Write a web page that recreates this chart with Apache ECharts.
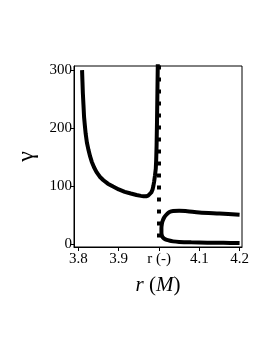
<!DOCTYPE html>
<html><head><meta charset="utf-8">
<script src="https://cdn.jsdelivr.net/npm/echarts@6/dist/echarts.min.js"></script>
<style>html,body{margin:0;padding:0;background:#fff}#c{width:273px;height:353px}</style>
</head><body><div id="c"></div>
<script>
// Left branch: gamma vs r
const leftR = [3.809, 3.810, 3.811, 3.8125, 3.814, 3.816, 3.818, 3.821, 3.825, 3.829, 3.833, 3.839, 3.845, 3.853, 3.862, 3.873, 3.886, 3.900, 3.915, 3.930, 3.944, 3.955, 3.962, 3.968, 3.973, 3.977, 3.981, 3.984, 3.986, 3.988, 3.990, 3.992, 3.993, 3.994, 3.995, 3.996, 3.997];
const leftG = [300, 280, 260, 240, 219, 204, 190, 175, 162, 151, 142, 132, 124, 116, 110, 104, 99, 94, 90, 87, 84.5, 83, 82.3, 82.3, 83.5, 85.5, 89, 94, 100, 108, 118, 130, 145, 170, 210, 260, 310];
// Right C-shaped branch
const rightR = [4.2, 4.15, 4.1, 4.07, 4.05, 4.035, 4.026, 4.019, 4.013, 4.009, 4.007, 4.006, 4.006, 4.007, 4.010, 4.016, 4.025, 4.035, 4.05, 4.08, 4.12, 4.16, 4.2];
const rightG = [50.5, 52.5, 54.5, 56.5, 57.5, 57, 55, 51, 46, 40, 34, 27, 20, 15, 11, 8, 6, 4.5, 3.5, 2.8, 2.3, 2, 1.7];
// Dotted vertical line at r(-)
const dotR = [4.0, 4.0];
const dotG = [11, 310];
// Tick labels
const xTicks = [3.8, 3.9, 4.0, 4.1, 4.2];
const xTickLabels = ['3.8', '3.9', 'r (-)', '4.1', '4.2'];
const yTicks = [0, 100, 200, 300];

const zip = (a, b) => a.map((v, i) => [v, b[i]]);
const serif = 'Liberation Serif';
const chart = echarts.init(document.getElementById('c'));
chart.setOption({
  animation: false,
  backgroundColor: '#fff',
  grid: { left: 74, top: 66, right: 31, bottom: 106, show: true, borderColor: '#000', borderWidth: 1, backgroundColor: 'transparent' },
  xAxis: {
    type: 'value', min: 3.789, max: 4.206,
    axisLine: { show: true, onZero: false, lineStyle: { color: '#000', width: 1 } },
    axisTick: { show: true, length: 4, customValues: xTicks, lineStyle: { color: '#000' } },
    axisLabel: { customValues: xTicks, color: '#000', fontFamily: serif, fontSize: 15, margin: 5,
      formatter: v => { const i = xTicks.findIndex(t => Math.abs(t - v) < 1e-6); return i >= 0 ? xTickLabels[i] : ''; } },
    splitLine: { show: false },
    name: '{i|r} ({i|M})', nameLocation: 'middle', nameGap: 28,
    nameTextStyle: { color: '#000', fontFamily: serif, fontSize: 21, rich: { i: { fontStyle: 'italic', fontFamily: serif, fontSize: 21, color: '#000' } } }
  },
  yAxis: {
    type: 'value', min: -5.2, max: 307,
    axisLine: { show: true, onZero: false, lineStyle: { color: '#000', width: 1 } },
    axisTick: { show: true, length: 4, customValues: yTicks, lineStyle: { color: '#000' } },
    axisLabel: { customValues: yTicks, color: '#000', fontFamily: serif, fontSize: 15, margin: 2 },
    splitLine: { show: false },
    name: 'γ', nameLocation: 'middle', nameGap: 29, nameRotate: 90,
    nameTextStyle: { color: '#000', fontFamily: serif, fontSize: 24 }
  },
  series: [
    { type: 'line', data: zip(dotR, dotG), showSymbol: false, symbol: 'none', clip: true,
      lineStyle: { color: '#000', width: 4, type: [4, 8], cap: 'butt' } },
    { type: 'line', data: zip(leftR, leftG), showSymbol: false, symbol: 'none', smooth: false, clip: true,
      lineStyle: { color: '#000', width: 4, join: 'round' } },
    { type: 'line', data: zip(rightR, rightG), showSymbol: false, symbol: 'none', smooth: 0.3, clip: true,
      lineStyle: { color: '#000', width: 4 } }
  ]
});
</script></body></html>
